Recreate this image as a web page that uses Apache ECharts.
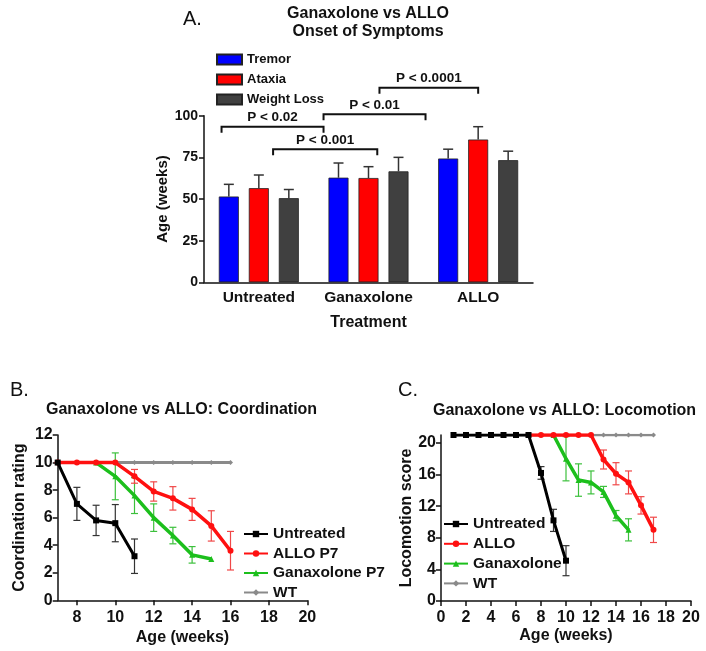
<!DOCTYPE html>
<html><head><meta charset="utf-8">
<script src="https://cdn.jsdelivr.net/npm/echarts@6/dist/echarts.min.js"></script>
<style>html,body{margin:0;padding:0;background:#fff}#c{width:706px;height:651px}</style>
</head><body><div id="c"></div>
<script>
const FONT = '"Liberation Sans", Arial, sans-serif';

// ---------- Panel A data ----------
const categories = ['Untreated', 'Ganaxolone', 'ALLO'];
const tremor = [51.5, 62.8, 74.3];
const tremorErr = [7.3, 8.8, 5.6];
const ataxia = [56.5, 62.6, 85.7];
const ataxiaErr = [7.9, 6.8, 7.7];
const weightLoss = [50.5, 66.6, 73.3];
const weightLossErr = [5.2, 8.4, 5.4];
const pLabels = ['P < 0.02', 'P < 0.001', 'P < 0.01', 'P < 0.0001'];
const pFrom = [0.16, 0.63, 1.09, 1.6];
const pTo = [1.09, 1.58, 2.02, 2.5];
const pLevel = [93.4, 79.8, 100.8, 116.8];

// ---------- Panel B data (Coordination) ----------
const bUntreatedX = [7, 8, 9, 10, 11];
const bUntreatedY = [10, 7.0, 5.8, 5.6, 3.2];
const bUntreatedE = [0, 1.2, 1.1, 1.35, 1.25];
const bAlloX = [7, 8, 9, 10, 11, 12, 13, 14, 15, 16];
const bAlloY = [10, 10, 10, 10, 9.0, 7.9, 7.4, 6.6, 5.4, 3.6];
const bAlloE = [0, 0, 0, 0, 0.5, 0.7, 0.85, 0.8, 1.1, 1.4];
const bGanX = [9, 10, 11, 12, 13, 14, 15];
const bGanY = [10, 9.0, 7.6, 6.0, 4.7, 3.3, 3.0];
const bGanE = [0, 1.7, 1.3, 1.0, 0.6, 0.6, 0];
const bWtX = [7, 8, 9, 10, 11, 12, 13, 14, 15, 16];
const bWtY = [10, 10, 10, 10, 10, 10, 10, 10, 10, 10];
const bXTicks = [8, 10, 12, 14, 16, 18, 20];

// ---------- Panel C data (Locomotion) ----------
const cUntreatedX = [1, 2, 3, 4, 5, 6, 7, 8, 9, 10];
const cUntreatedY = [21, 21, 21, 21, 21, 21, 21, 16.2, 10.2, 5.1];
const cUntreatedE = [0, 0, 0, 0, 0, 0, 0, 0.8, 1.4, 1.9];
const cAlloX = [7, 8, 9, 10, 11, 12, 13, 14, 15, 16, 17];
const cAlloY = [21, 21, 21, 21, 21, 21, 17.9, 16.1, 15.0, 12.1, 9.0];
const cAlloE = [0, 0, 0, 0, 0, 0, 1.2, 1.4, 1.45, 1.1, 1.6];
const cGanX = [9, 10, 11, 12, 13, 14, 15];
const cGanY = [21, 18.0, 15.3, 15.0, 13.8, 10.8, 9.0];
const cGanE = [0, 2.8, 2.05, 1.45, 0.7, 0.65, 1.4];
const cWtX = [1, 2, 3, 4, 5, 6, 7, 8, 9, 10, 11, 12, 13, 14, 15, 16, 17];
const cWtY = [21, 21, 21, 21, 21, 21, 21, 21, 21, 21, 21, 21, 21, 21, 21, 21, 21];
const cYTicks = [0, 4, 8, 12, 16, 20];

// ---------- helpers ----------
const zip = (xs, ys) => xs.map((x, i) => [x, ys[i]]);
const zip3 = (xs, ys, es) => xs.map((x, i) => [x, ys[i], es[i]]);

function lineErr(color, cap) {
  return function (params, api) {
    const x = api.value(0), y = api.value(1), e = api.value(2);
    if (!e) return null;
    const t = api.coord([x, y + e]), b = api.coord([x, y - e]);
    const s = { stroke: color, lineWidth: 1.2 };
    return { type: 'group', children: [
      { type: 'line', shape: { x1: t[0], y1: t[1], x2: b[0], y2: b[1] }, style: s },
      { type: 'line', shape: { x1: t[0] - cap, y1: t[1], x2: t[0] + cap, y2: t[1] }, style: s },
      { type: 'line', shape: { x1: b[0] - cap, y1: b[1], x2: b[0] + cap, y2: b[1] }, style: s }
    ] };
  };
}
function barErr(params, api) {
  const c = api.value(0), v = api.value(1), e = api.value(2), k = api.value(3);
  const base = api.coord([c, v]), top = api.coord([c, v + e]);
  const x = base[0] + (k - 1) * 30;
  const s = { stroke: '#333', lineWidth: 1.5 };
  return { type: 'group', children: [
    { type: 'line', shape: { x1: x, y1: base[1], x2: x, y2: top[1] }, style: s },
    { type: 'line', shape: { x1: x - 5, y1: top[1], x2: x + 5, y2: top[1] }, style: s }
  ] };
}
function bracket(params, api) {
  const a = api.coord([api.value(0), api.value(2)]);
  const b = api.coord([api.value(1), api.value(2)]);
  const label = pLabels[api.value(3)];
  return { type: 'group', children: [
    { type: 'polyline', shape: { points: [[a[0], a[1] + 6], a, b, [b[0], b[1] + 6]] },
      style: { stroke: '#111', lineWidth: 2, fill: null } },
    { type: 'text', style: { text: label, x: (a[0] + b[0]) / 2, y: a[1] - 2, align: 'center',
      verticalAlign: 'bottom', font: 'bold 13.5px ' + FONT, fill: '#111' } }
  ] };
}

const axisLine = { show: true, lineStyle: { color: '#111', width: 1.5 } };
const axisTick = { show: true, inside: false, length: 5, lineStyle: { color: '#111', width: 1.5 } };
const lbl = (size, margin) => ({ color: '#111', fontFamily: FONT, fontWeight: 'bold', fontSize: size, margin: margin });
const nameStyle = (size) => ({ color: '#111', fontFamily: FONT, fontWeight: 'bold', fontSize: size });

const C_BLACK = '#000', C_RED = '#ff1010', C_GREEN = '#1cbf1c', C_GREY = '#8a8a8a';

function lineSeries(name, data, color, symbol, size, width, xi, z) {
  return { type: 'line', name, data, xAxisIndex: xi, yAxisIndex: xi - 1, symbol, symbolSize: size,
    showSymbol: true, lineStyle: { color, width }, itemStyle: { color }, z, animation: false };
}
function errSeries(data, color, xi, z) {
  return { type: 'custom', data, xAxisIndex: xi, yAxisIndex: xi - 1, renderItem: lineErr(color, 3.5),
    z, animation: false, silent: true };
}

const chart = echarts.init(document.getElementById('c'), null, { renderer: 'canvas' });
chart.setOption({
  animation: false,
  backgroundColor: '#fff',
  textStyle: { fontFamily: FONT },
  title: [
    { text: 'A.', left: 183, top: 9, padding: 0, textStyle: { fontSize: 20, fontWeight: 'normal', color: '#111', fontFamily: FONT } },
    { text: 'Ganaxolone vs ALLO\nOnset of Symptoms', left: 368, top: 5, padding: 0, textAlign: 'center',
      textStyle: { fontSize: 16, fontWeight: 'bold', lineHeight: 18, color: '#111', fontFamily: FONT } },
    { text: 'B.', left: 10, top: 380, padding: 0, textStyle: { fontSize: 20, fontWeight: 'normal', color: '#111', fontFamily: FONT } },
    { text: 'Ganaxolone vs ALLO: Coordination', left: 46, top: 402, padding: 0,
      textStyle: { fontSize: 16, fontWeight: 'bold', color: '#111', fontFamily: FONT } },
    { text: 'C.', left: 398, top: 380, padding: 0, textStyle: { fontSize: 20, fontWeight: 'normal', color: '#111', fontFamily: FONT } },
    { text: 'Ganaxolone vs ALLO: Locomotion', left: 433, top: 403, padding: 0,
      textStyle: { fontSize: 16, fontWeight: 'bold', color: '#111', fontFamily: FONT } }
  ],
  legend: [
    { data: ['Tremor', 'Ataxia', 'Weight Loss'], orient: 'vertical', left: 216, top: 53, padding: 0,
      itemWidth: 25, itemHeight: 10, itemGap: 7, icon: 'rect', selectedMode: false,
      textStyle: { fontFamily: FONT, fontWeight: 'bold', fontSize: 13, lineHeight: 13, color: '#111' } },
    { data: ['Untreated', 'ALLO P7', 'Ganaxolone P7', 'WT'], orient: 'vertical', left: 243, top: 526, padding: 0,
      itemWidth: 24, itemHeight: 8, itemGap: 3.5, selectedMode: false,
      textStyle: { fontFamily: FONT, fontWeight: 'bold', fontSize: 15.5, lineHeight: 16, color: '#111' } },
    { data: ['Untreated', 'ALLO', 'Ganaxolone', 'WT'], orient: 'vertical', left: 443, top: 516, padding: 0,
      itemWidth: 24, itemHeight: 8, itemGap: 3.8, selectedMode: false,
      textStyle: { fontFamily: FONT, fontWeight: 'bold', fontSize: 15.5, lineHeight: 16, color: '#111' } }
  ],
  grid: [
    { left: 204, top: 115.7, width: 329, height: 166.6 },
    { left: 57.7, top: 435, width: 249.6, height: 165.3 },
    { left: 441, top: 435, width: 250, height: 166 }
  ],
  xAxis: [
    { gridIndex: 0, type: 'category', data: categories, axisLine, axisTick: { show: false },
      axisLabel: Object.assign({ interval: 0, hideOverlap: false }, lbl(15.5, 7)),
      name: 'Treatment', nameLocation: 'middle', nameGap: 32, nameTextStyle: nameStyle(16) },
    { gridIndex: 0, type: 'value', min: 0, max: 3, show: false },
    { gridIndex: 1, type: 'value', min: 7, max: 20, axisLine, axisTick: Object.assign({ customValues: bXTicks }, axisTick),
      axisLabel: Object.assign({ customValues: bXTicks }, lbl(16, 9)), splitLine: { show: false },
      name: 'Age (weeks)', nameLocation: 'middle', nameGap: 29, nameTextStyle: nameStyle(16) },
    { gridIndex: 2, type: 'value', min: 0, max: 20, interval: 2, axisLine, axisTick,
      axisLabel: lbl(16, 9), splitLine: { show: false },
      name: 'Age (weeks)', nameLocation: 'middle', nameGap: 27, nameTextStyle: nameStyle(16) }
  ],
  yAxis: [
    { gridIndex: 0, type: 'value', min: 0, max: 100, interval: 25, axisLine, axisTick,
      axisLabel: lbl(14, 6), splitLine: { show: false },
      name: 'Age (weeks)', nameLocation: 'middle', nameGap: 31, nameTextStyle: nameStyle(15) },
    { gridIndex: 1, type: 'value', min: 0, max: 12, interval: 2, axisLine, axisTick,
      axisLabel: lbl(16, 5), splitLine: { show: false },
      name: 'Coordination rating', nameLocation: 'middle', nameGap: 30, nameTextStyle: nameStyle(16) },
    { gridIndex: 2, type: 'value', min: 0, max: 21, axisLine, axisTick: Object.assign({ customValues: cYTicks }, axisTick),
      axisLabel: Object.assign({ customValues: cYTicks }, lbl(16, 5)), splitLine: { show: false },
      name: 'Locomotion score', nameLocation: 'middle', nameGap: 26, nameTextStyle: nameStyle(16) }
  ],
  series: [
    // Panel A
    { type: 'bar', name: 'Tremor', data: tremor, xAxisIndex: 0, yAxisIndex: 0, barWidth: 20, barGap: '50%',
      itemStyle: { color: '#0000ff', borderColor: '#222', borderWidth: 0.8 } },
    { type: 'bar', name: 'Ataxia', data: ataxia, xAxisIndex: 0, yAxisIndex: 0, barWidth: 20, barGap: '50%',
      itemStyle: { color: '#ff0000', borderColor: '#222', borderWidth: 0.8 } },
    { type: 'bar', name: 'Weight Loss', data: weightLoss, xAxisIndex: 0, yAxisIndex: 0, barWidth: 20, barGap: '50%',
      itemStyle: { color: '#404040', borderColor: '#222', borderWidth: 0.8 } },
    { type: 'custom', xAxisIndex: 0, yAxisIndex: 0, renderItem: barErr, silent: true, z: 1,
      data: [].concat(tremor.map((v, i) => [i, v, tremorErr[i], 0]),
                      ataxia.map((v, i) => [i, v, ataxiaErr[i], 1]),
                      weightLoss.map((v, i) => [i, v, weightLossErr[i], 2])) },
    { type: 'custom', xAxisIndex: 1, yAxisIndex: 0, renderItem: bracket, silent: true, clip: false,
      data: pFrom.map((f, i) => [f, pTo[i], pLevel[i], i]) },

    // Panel B
    lineSeries('WT', zip(bWtX, bWtY), C_GREY, 'diamond', 5, 3, 2, 2),
    errSeries(zip3(bGanX, bGanY, bGanE), '#3cc03c', 2, 2),
    lineSeries('Ganaxolone P7', zip(bGanX, bGanY), C_GREEN, 'triangle', 6, 3.5, 2, 3),
    errSeries(zip3(bAlloX, bAlloY, bAlloE), '#f04848', 2, 3),
    lineSeries('ALLO P7', zip(bAlloX, bAlloY), C_RED, 'circle', 6, 3.5, 2, 4),
    errSeries(zip3(bUntreatedX, bUntreatedY, bUntreatedE), '#333', 2, 4),
    lineSeries('Untreated', zip(bUntreatedX, bUntreatedY), C_BLACK, 'rect', 6, 3, 2, 5),

    // Panel C
    lineSeries('WT', zip(cWtX, cWtY), C_GREY, 'diamond', 5, 2.5, 3, 2),
    errSeries(zip3(cGanX, cGanY, cGanE), '#3cc03c', 3, 2),
    lineSeries('Ganaxolone', zip(cGanX, cGanY), C_GREEN, 'triangle', 6, 3.5, 3, 3),
    errSeries(zip3(cAlloX, cAlloY, cAlloE), '#f04848', 3, 3),
    lineSeries('ALLO', zip(cAlloX, cAlloY), C_RED, 'circle', 6, 3.5, 3, 4),
    errSeries(zip3(cUntreatedX, cUntreatedY, cUntreatedE), '#333', 3, 4),
    lineSeries('Untreated', zip(cUntreatedX, cUntreatedY), C_BLACK, 'rect', 6, 3, 3, 5)
  ]
});
</script>
</body></html>
